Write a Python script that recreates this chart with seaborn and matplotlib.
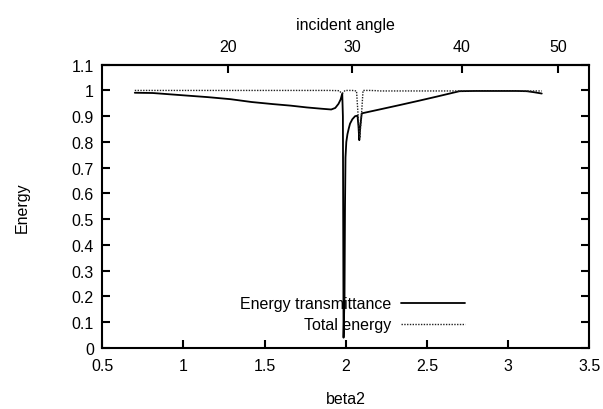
import numpy as np
import pandas as pd
import matplotlib
matplotlib.use("Agg")
import matplotlib.pyplot as plt
import seaborn as sns
from matplotlib.lines import Line2D

# ==========================================================
# DATA
# ==========================================================
t_beta = [0.70, 0.81, 1.00, 1.15, 1.29, 1.42, 1.55, 1.66, 1.76, 1.85,
          1.91, 1.935, 1.955, 1.968, 1.978, 1.982, 1.986, 1.992, 1.995, 1.998,
          2.003, 2.010, 2.018, 2.026, 2.040, 2.057, 2.072, 2.078, 2.083, 2.089,
          2.098, 2.12, 2.20, 2.33, 2.45, 2.56, 2.64, 2.70, 2.80, 2.95,
          3.05, 3.115, 3.16, 3.207]
t_energy = [0.991, 0.990, 0.981, 0.974, 0.966, 0.955, 0.947, 0.941, 0.934, 0.929,
            0.926, 0.932, 0.948, 0.965, 0.988, 0.90, 0.04, 0.20, 0.55, 0.74,
            0.800, 0.830, 0.852, 0.871, 0.888, 0.900, 0.902, 0.86, 0.807, 0.86,
            0.911, 0.914, 0.925, 0.943, 0.960, 0.976, 0.988, 0.997, 0.998, 0.998,
            0.998, 0.997, 0.993, 0.988]

e_beta = [0.70, 1.00, 1.50, 1.90, 1.960, 1.972, 1.982, 1.995, 2.040, 2.066,
          2.076, 2.086, 2.096, 2.106, 2.15, 2.19, 2.21, 2.60, 3.00, 3.207]
e_total = [1.000, 1.000, 1.000, 1.000, 0.999, 0.990, 0.990, 1.000, 1.000, 0.998,
           0.90, 0.815, 0.90, 1.000, 1.000, 0.999, 0.998, 0.998, 0.998, 0.998]

# top axis: incident angle ticks and their beta2 positions
angle_labels = ["20", "30", "40", "50"]
angle_pos = [1.273, 2.040, 2.714, 3.306]

x_ticks = [0.5, 1, 1.5, 2, 2.5, 3, 3.5]
y_ticks = [0, 0.1, 0.2, 0.3, 0.4, 0.5, 0.6, 0.7, 0.8, 0.9, 1, 1.1]

df_t = pd.DataFrame({"beta2": t_beta, "energy": t_energy})
df_e = pd.DataFrame({"beta2": e_beta, "energy": e_total})

# ==========================================================
# STYLE
# ==========================================================
sns.set_style("ticks")
plt.rcParams.update({
    "font.family": ["Liberation Sans", "DejaVu Sans"],
    "font.size": 11.5,
    "axes.linewidth": 1.5,
    "text.color": "black",
    "axes.labelcolor": "black",
    "axes.edgecolor": "black",
    "xtick.color": "black",
    "ytick.color": "black",
})
FS = 11.5

fig = plt.figure(figsize=(6.03, 4.10), dpi=100)
ax = fig.add_axes([0.1697, 0.1488, 0.8076, 0.6910])

sns.lineplot(data=df_t, x="beta2", y="energy", estimator=None, sort=False,
             color="black", linewidth=1.3, ax=ax)
sns.lineplot(data=df_e, x="beta2", y="energy", estimator=None, sort=False,
             color="#222222", linewidth=1.0, linestyle=(0, (1, 1)), ax=ax)

ax.set_xlim(0.5, 3.5)
ax.set_ylim(0, 1.1)
ax.set_xticks(x_ticks, labels=["0.5", "1", "1.5", "2", "2.5", "3", "3.5"])
ax.set_yticks(y_ticks, labels=["0", "0.1", "0.2", "0.3", "0.4", "0.5", "0.6",
                               "0.7", "0.8", "0.9", "1", "1.1"])
ax.tick_params(axis="x", direction="in", length=6, width=1.5, pad=7,
               top=False, labelsize=FS)
ax.tick_params(axis="y", direction="in", length=6, width=1.5, pad=6,
               right=True, labelsize=FS)

ax.set_xlabel("beta2", fontsize=FS, labelpad=13)
ax.set_ylabel("Energy", fontsize=FS, labelpad=30)

top = ax.secondary_xaxis("top")
top.set_xticks(angle_pos, labels=angle_labels)
top.tick_params(axis="x", direction="in", length=6, width=1.5, pad=8,
                labelsize=FS)
top.set_xlabel("incident angle", fontsize=FS, labelpad=7)
top.spines["top"].set_linewidth(1.5)

for s in ax.spines.values():
    s.set_visible(True)
    s.set_linewidth(1.5)

handles = [
    Line2D([0], [0], color="black", lw=1.3, label="Energy transmittance"),
    Line2D([0], [0], color="#222222", lw=1.0, linestyle=(0, (1, 1)),
           label="Total energy"),
]
ax.legend(handles=handles, loc="center right", markerfirst=False,
          frameon=False, borderpad=0, handlelength=4.0, handletextpad=0.6,
          labelspacing=0.4, fontsize=FS,
          bbox_to_anchor=(473 / 603, 1 - 315.3 / 410),
          bbox_transform=fig.transFigure)

fig.savefig("out.png", dpi=100)
